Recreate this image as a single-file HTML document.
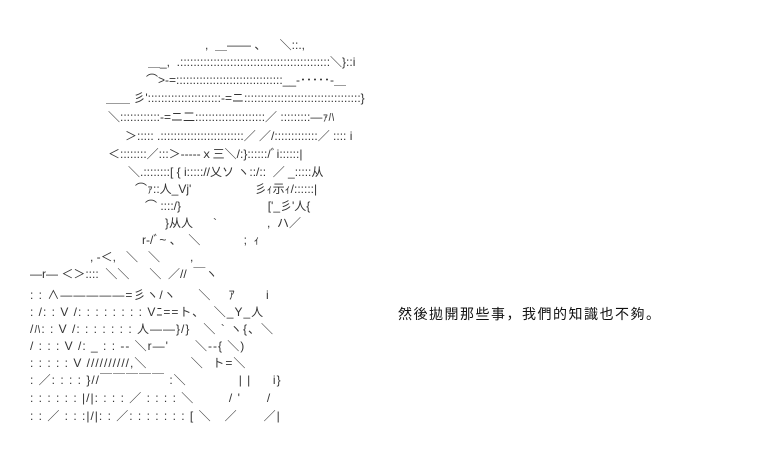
<!DOCTYPE html>
<html><head><meta charset="utf-8">
<style>
html,body{margin:0;padding:0;background:#fff;}
body{width:761px;height:460px;position:relative;overflow:hidden;font-family:"Liberation Sans","Noto Sans CJK JP",sans-serif;color:#222;}
.l{position:absolute;font-size:12px;line-height:14px;white-space:pre;color:#333;}
.w{letter-spacing:1px;}
.cap{position:absolute;left:398px;top:304px;font-size:14px;letter-spacing:1.5px;white-space:nowrap;color:#111;}
</style></head><body>
<div class="l" style="left:205px;top:38px">,  ＿―― 、    ＼::.,</div>
<div class="l" style="left:148px;top:55px">＿_,  .:::::::::::::::::::::::::::::::::::::::::::::＼}::i</div>
<div class="l" style="left:146px;top:73px">⌒>-=::::::::::::::::::::::::::::::::__-･････-＿</div>
<div class="l" style="left:106px;top:91px">＿＿ 彡'::::::::::::::::::::::-=ニ:::::::::::::::::::::::::::::::::::}</div>
<div class="l" style="left:108px;top:110px">＼::::::::::::-=ニ二:::::::::::::::::::::／ :::::::::―ｧﾊ</div>
<div class="l" style="left:125px;top:129px">＞::::: .:::::::::::::::::::::::::／ ／/:::::::::::::／ :::: i</div>
<div class="l" style="left:108px;top:147px">＜::::::::／:::＞-----ｘ三＼/:}::::::/ﾞi::::::|</div>
<div class="l" style="left:128px;top:165px">＼.::::::::[ { i::::://乂ソ ヽ::/::  ／ _:::::从</div>
<div class="l" style="left:135px;top:182px">⌒ｧ::人_Vj'                   彡ｨ示ｨ/::::::|</div>
<div class="l" style="left:145px;top:199px">⌒ ::::/}                          ['_彡'人{</div>
<div class="l" style="left:165px;top:216px">}从人      `               ,  ハ／</div>
<div class="l" style="left:142px;top:233px">r‐/ﾞ~ 、  ＼             ;  ｨ</div>
<div class="l" style="left:90px;top:250px">, -＜,   ＼   ＼         ,</div>
<div class="l" style="left:30px;top:267px">―r― ＜＞::::  ＼＼      ＼  ／//  ￣ヽ</div>
<div class="l w" style="left:30px;top:288px">: : ∧―――――=彡ヽ/ヽ     ＼    ｱ       i</div>
<div class="l w" style="left:30px;top:305px">: /: : V /: : : : : : : : Vﾆ==ト、  ＼_Y_人</div>
<div class="l w" style="left:30px;top:322px">/ﾊ: : V /: : : : : : : 人――}/}   ＼ ` ヽ{、＼</div>
<div class="l w" style="left:30px;top:339px">/ : : : V /: _ : : -- ＼r―'      ＼--{ ＼)</div>
<div class="l w" style="left:30px;top:356px">: : : : : V //////////,＼          ＼  ト=＼</div>
<div class="l w" style="left:30px;top:373px">: ／: : : : }//￣￣￣￣￣ :＼            | |     i}</div>
<div class="l w" style="left:30px;top:391px">: : : : : : |/|: : : : ／ : : : : ＼        / '      /</div>
<div class="l w" style="left:30px;top:409px">: : ／ : : :|/|: : ／: : : : : : : [ ＼   ／      ／|</div>
<div class="cap">然後拋開那些事，我們的知識也不夠。</div>
</body></html>
